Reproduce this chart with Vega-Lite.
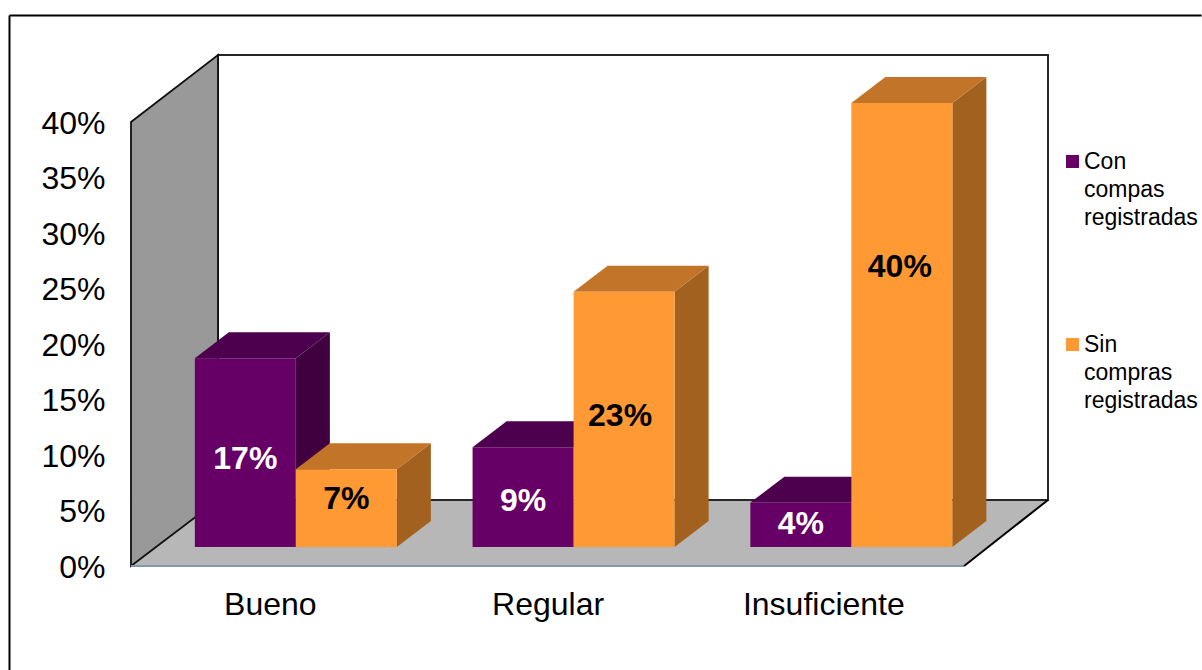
{
  "$schema": "https://vega.github.io/schema/vega-lite/v6.json",
  "width": 917,
  "height": 511,
  "padding": {"left": 131, "top": 55, "right": 154, "bottom": 104},
  "autosize": "none",
  "background": "white",
  "config": {"view": {"stroke": null}, "text": {"font": "Liberation Sans"}},
  "datasets": {
    "barras": [
      {"categoria": "Bueno", "serie": "Con compas registradas", "valor": 0.17},
      {"categoria": "Bueno", "serie": "Sin compras registradas", "valor": 0.07},
      {"categoria": "Regular", "serie": "Con compas registradas", "valor": 0.09},
      {"categoria": "Regular", "serie": "Sin compras registradas", "valor": 0.23},
      {"categoria": "Insuficiente", "serie": "Con compas registradas", "valor": 0.04},
      {"categoria": "Insuficiente", "serie": "Sin compras registradas", "valor": 0.40}
    ],
    "bordes": [
      {"borde": "marco", "x": -1.203, "y": 0.496, "x2": -1.203, "y2": -0.094},
      {"borde": "marco", "x": -1.203, "y": 0.496, "x2": 10.6, "y2": 0.496},
      {"borde": "frente", "x": 0, "y": 0, "x2": 8.248, "y2": 0},
      {"borde": "lateral", "x": 8.248, "y": 0, "x2": 9.079, "y2": 0.0595}
    ]
  },
  "layer": [
    {
      "data": {"values": [
        {"y": 0, "x": 0, "x2": 8.248},
        {"y": 0.0595, "x": 0.861, "x2": 9.079}
      ]},
      "mark": {"type": "area", "orient": "horizontal", "fill": "#b7b7b7"},
      "encoding": {
        "y": {
          "field": "y", "type": "quantitative",
          "scale": {"domain": [0, 0.4604], "nice": false, "zero": false},
          "axis": {
            "title": null, "values": [0, 0.05, 0.1, 0.15, 0.2, 0.25, 0.3, 0.35, 0.4],
            "format": ".0%", "grid": false, "domain": false, "ticks": false,
            "labelFont": "Liberation Sans", "labelFontSize": 32, "labelColor": "#000000",
            "labelPadding": 26, "labelOffset": 1
          }
        },
        "x": {
          "field": "x", "type": "quantitative",
          "scale": {"domain": [0, 9.079], "nice": false, "zero": false},
          "axis": {
            "title": null, "values": [1.375, 4.125, 6.855],
            "labelExpr": "datum.value < 2 ? 'Bueno' : datum.value < 5 ? 'Regular' : 'Insuficiente'",
            "grid": false, "domain": false, "ticks": false,
            "labelFont": "Liberation Sans", "labelFontSize": 32, "labelColor": "#000000",
            "labelPadding": 23, "labelOverlap": false, "labelFlush": false
          }
        },
        "x2": {"field": "x2"}
      }
    },
    {
      "data": {"values": [{"x": 0.861, "x2": 9.079, "y": 0.0595, "y2": 0.4604}]},
      "mark": {"type": "rect", "fill": "#ffffff", "stroke": "#262626", "strokeWidth": 2},
      "encoding": {
        "x": {"field": "x", "type": "quantitative"},
        "x2": {"field": "x2"},
        "y": {"field": "y", "type": "quantitative"},
        "y2": {"field": "y2"}
      }
    },
    {
      "data": {"values": [
        {"x": 0, "y": 0, "y2": 0.4},
        {"x": 0.861, "y": 0.0595, "y2": 0.4604}
      ]},
      "mark": {"type": "area", "fill": "#999999", "stroke": "#111111", "strokeWidth": 1.8},
      "encoding": {
        "x": {"field": "x", "type": "quantitative"},
        "y": {"field": "y", "type": "quantitative"},
        "y2": {"field": "y2"}
      }
    },
    {
      "data": {"name": "bordes"},
      "mark": {"type": "rule", "strokeWidth": 2},
      "encoding": {
        "x": {"field": "x", "type": "quantitative"},
        "x2": {"field": "x2"},
        "y": {"field": "y", "type": "quantitative"},
        "y2": {"field": "y2"},
        "color": {"condition": {"test": "datum.borde === 'frente'", "value": "#8497b0"}, "value": "#000000"}
      }
    },
    {
      "data": {"name": "barras"},
      "transform": [
        {"calculate": "datum.categoria + ' ' + datum.serie", "as": "id"},
        {"calculate": "(datum.categoria === 'Bueno' ? 0 : datum.categoria === 'Regular' ? 2.75 : 5.5) + 0.632 + (datum.serie[0] === 'C' ? 0 : 1)", "as": "x0"},
        {"calculate": "datum.x0 + 1", "as": "x1"},
        {"calculate": "0.0171", "as": "base"},
        {"calculate": "datum.base + datum.valor", "as": "cima"},
        {"calculate": "[0, 1]", "as": "esquina"},
        {"flatten": ["esquina"]},
        {"calculate": "datum.x1 + datum.esquina * 0.337", "as": "ladoX"},
        {"calculate": "datum.cima + datum.esquina * 0.0234", "as": "ladoCima"},
        {"calculate": "datum.base + datum.esquina * 0.0234", "as": "ladoBase"},
        {"calculate": "datum.x0 + datum.esquina * 0.337", "as": "tapaX"},
        {"calculate": "datum.x1 + datum.esquina * 0.337", "as": "tapaX2"},
        {"calculate": "{'Bueno C': 0.0963, 'Bueno S': 0.0603, 'Regular C': 0.0586, 'Regular S': 0.1353, 'Insuficiente C': 0.0378, 'Insuficiente S': 0.269}[datum.categoria + ' ' + datum.serie[0]]", "as": "etiquetaY"},
        {"calculate": "datum.x0 + {'Regular S': 0.46, 'Insuficiente S': 0.48}[datum.categoria + ' ' + datum.serie[0]] || datum.x0 + 0.5", "as": "etiquetaX"}
      ],
      "layer": [
        {
          "mark": {"type": "area"},
          "encoding": {
            "x": {"field": "ladoX", "type": "quantitative"},
            "y": {"field": "ladoCima", "type": "quantitative"},
            "y2": {"field": "ladoBase"},
            "detail": {"field": "id"},
            "color": {"condition": {"test": "datum.serie[0] === 'C'", "value": "#400040"}, "value": "#a3611f"}
          }
        },
        {
          "mark": {"type": "area", "orient": "horizontal"},
          "encoding": {
            "y": {"field": "ladoCima", "type": "quantitative"},
            "x": {"field": "tapaX", "type": "quantitative"},
            "x2": {"field": "tapaX2"},
            "detail": {"field": "id"},
            "color": {"condition": {"test": "datum.serie[0] === 'C'", "value": "#4d004d"}, "value": "#c27428"}
          }
        },
        {
          "transform": [{"filter": "datum.esquina === 0"}],
          "mark": {"type": "rect"},
          "encoding": {
            "x": {"field": "x0", "type": "quantitative"},
            "x2": {"field": "x1"},
            "y": {"field": "base", "type": "quantitative"},
            "y2": {"field": "cima"},
            "color": {
              "field": "serie", "type": "nominal",
              "scale": {
                "domain": ["Con compas registradas", "Sin compras registradas"],
                "range": ["#660066", "#ff9933"]
              },
              "legend": {
                "title": null, "orient": "none", "legendX": 930, "legendY": 95,
                "symbolType": "square", "symbolSize": 169, "symbolStrokeWidth": 0,
                "labelFont": "Liberation Sans", "labelFontSize": 23, "labelColor": "#000000",
                "labelExpr": "split(datum.label, ' ')", "labelLimit": 400, "labelOffset": 0,
                "rowPadding": 103,
                "encoding": {"labels": {"lineHeight": {"value": 28}}}
              }
            }
          }
        },
        {
          "transform": [{"filter": "datum.esquina === 0"}],
          "mark": {"type": "text", "font": "Liberation Sans", "fontSize": 32, "fontWeight": "bold", "align": "center", "baseline": "middle"},
          "encoding": {
            "x": {"field": "etiquetaX", "type": "quantitative"},
            "y": {"field": "etiquetaY", "type": "quantitative"},
            "text": {"field": "valor", "type": "quantitative", "format": ".0%"},
            "color": {"condition": {"test": "datum.serie[0] === 'C'", "value": "#ffffff"}, "value": "#000000"}
          }
        }
      ]
    }
  ]
}
